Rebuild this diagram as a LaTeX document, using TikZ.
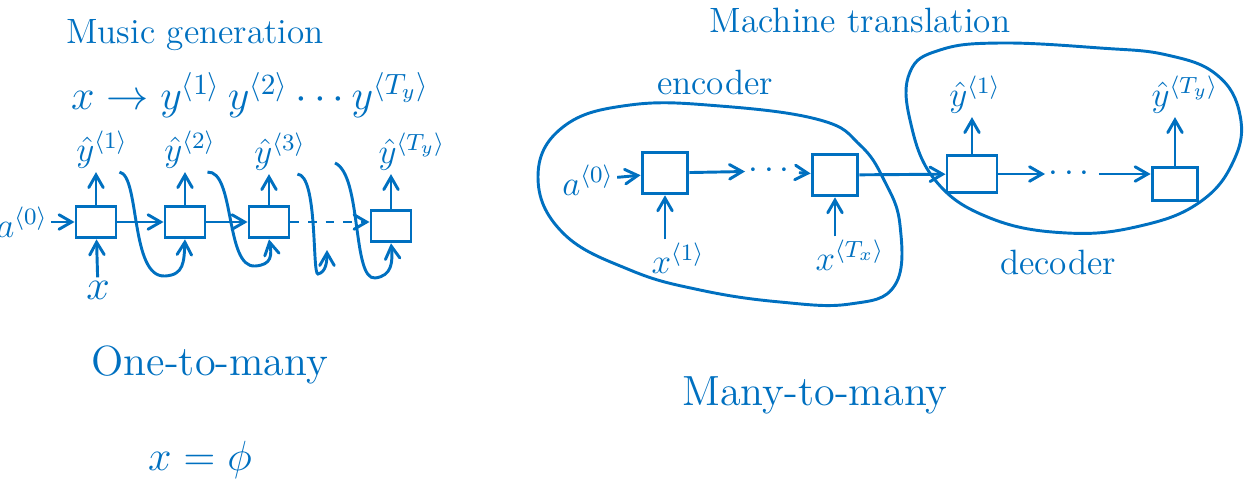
\documentclass[tikz,border=0pt]{standalone}
\usepackage{amsmath,amssymb}
\usepackage{xcolor}
\usepackage{tikz}
\usetikzlibrary{shapes,arrows}
\definecolor{inkblue}{RGB}{0,112,192}
\tikzstyle{cell} = [rectangle, draw=inkblue, line width=1pt, minimum width=0.48cm, minimum height=0.38cm, inner sep=0pt]
\tikzstyle{lbl} = [text=inkblue, inner sep=1pt]
\tikzstyle{arrow} = [draw=inkblue, line width=1pt, ->, >=angle 60]
\tikzstyle{blob} = [draw=inkblue, line width=1pt]

\begin{document}
\begin{tikzpicture}[x=0.012cm, y=-0.012cm]
\useasboundingbox (0,0) rectangle (1245,489);

% one-to-many: music generation
\node[lbl, font=\large] (music) at (195,35) {Music generation};
\node[lbl, font=\Large] (seq) at (250,95) {$x \rightarrow y^{\langle 1\rangle}\, y^{\langle 2\rangle} \cdots y^{\langle T_y\rangle}$};

\node[cell] (c1) at (96,222) {};
\node[cell] (c2) at (185,222) {};
\node[cell] (c3) at (269,222) {};
\node[cell] (c4) at (391,226) {};

\node[lbl, font=\large] (y1) at (102,150) {$\hat{y}^{\langle 1\rangle}$};
\node[lbl, font=\large] (y2) at (190,150) {$\hat{y}^{\langle 2\rangle}$};
\node[lbl, font=\large] (y3) at (280,152) {$\hat{y}^{\langle 3\rangle}$};
\node[lbl, font=\large] (yT) at (412,152) {$\hat{y}^{\langle T_y\rangle}$};

\node[lbl, font=\large] (a0) at (22,222) {$a^{\langle 0\rangle}$};
\node[lbl, font=\Large] (x0) at (98,290) {$x$};

\coordinate (yprev) at (335,163);
\coordinate (hook) at (327,250);

\draw[arrow] (a0) -- (c1);
\draw[arrow] (x0) -- (c1);
\draw[arrow] (c1.north) -- (c1.north |- y1.south);
\draw[arrow] (c2.north) -- (c2.north |- y2.south);
\draw[arrow] (c3.north) -- (c3.north |- y3.south);
\draw[arrow] (c4.north) -- (c4.north |- yT.south);
\draw[arrow] (c1) -- (c2);
\draw[arrow] (c2) -- (c3);
\draw[arrow, dashed] (c3.east) -- (c3.east -| c4.west);

% sampled output fed back in
\draw[arrow] ([xshift=-4pt]y1.south east) .. controls (140,175) and (130,278) .. (165,276) .. controls (184,275) and (184,262) .. (c2.south);
\draw[arrow] ([xshift=-4pt]y2.south east) .. controls (235,170) and (225,268) .. (255,266) .. controls (272,265) and (272,255) .. (c3.south);
\draw[arrow] ([xshift=-4pt]y3.south east) .. controls (318,175) and (312,275) .. (318,274) .. controls (326,272) and (327,262) .. (hook);
\draw[arrow] (yprev) .. controls (362,175) and (352,280) .. (375,278) .. controls (392,276) and (393,262) .. (c4.south);

\node[lbl, font=\Large] (one) at (210,365) {One-to-many};
\node[lbl, font=\Large] (xnull) at (200,460) {$x = \phi$};

% many-to-many: machine translation
\node[lbl, font=\large] (machine) at (860,20) {Machine translation};
\node[lbl, font=\large] (enclbl) at (715,82) {encoder};
\node[lbl, font=\large] (declbl) at (1058,262) {decoder};

\draw[blob] plot[smooth cycle, tension=0.7] coordinates {(538,177) (563,127) (630,105) (720,106) (820,120) (860,145) (884,180) (900,225) (895,285) (850,304) (780,302) (700,290) (630,270) (563,233)};
\draw[blob] plot[smooth cycle, tension=0.7] coordinates {(910,72) (910,120) (935,180) (990,218) (1067,233) (1140,226) (1200,202) (1234,160) (1240,115) (1217,75) (1167,55) (1100,48) (1000,43) (940,50)};

\node[cell, minimum width=0.55cm, minimum height=0.5cm] (e1) at (665,173) {};
\node[cell, minimum width=0.55cm, minimum height=0.5cm] (e2) at (835,175) {};
\node[cell, minimum width=0.6cm, minimum height=0.45cm] (d1) at (972,174) {};
\node[cell, minimum width=0.55cm, minimum height=0.4cm] (d2) at (1175,184) {};

\node[lbl, font=\large] (a0r) at (588,180) {$a^{\langle 0\rangle}$};
\node[lbl, font=\large] (x1) at (678,258) {$x^{\langle 1\rangle}$};
\node[lbl, font=\large] (xT) at (850,255) {$x^{\langle T_x\rangle}$};
\node[lbl, font=\large] (edots) at (772,171) {$\cdots$};
\node[lbl, font=\large] (ddots) at (1072,174) {$\cdots$};
\node[lbl, font=\large] (yd1) at (975,95) {$\hat{y}^{\langle 1\rangle}$};
\node[lbl, font=\large] (ydT) at (1185,95) {$\hat{y}^{\langle T_y\rangle}$};

\draw[arrow] (a0r) -- (e1);
\draw[arrow] (x1.north -| e1.south) -- (e1.south);
\draw[arrow] (xT.north -| e2.south) -- (e2.south);
\draw[arrow] (e1) -- (edots);
\draw[arrow] (edots) -- (e2);
\draw[arrow] (e2) -- (d1);
\draw[arrow] (d1) -- (ddots);
\draw[arrow] (ddots.east) -- (ddots.east -| d2.west);
\draw[arrow] (d1.north) -- (d1.north |- yd1.south);
\draw[arrow] (d2.north) -- (d2.north |- ydT.south);

\node[lbl, font=\Large] (many) at (815,395) {Many-to-many};
\end{tikzpicture}
\end{document}
